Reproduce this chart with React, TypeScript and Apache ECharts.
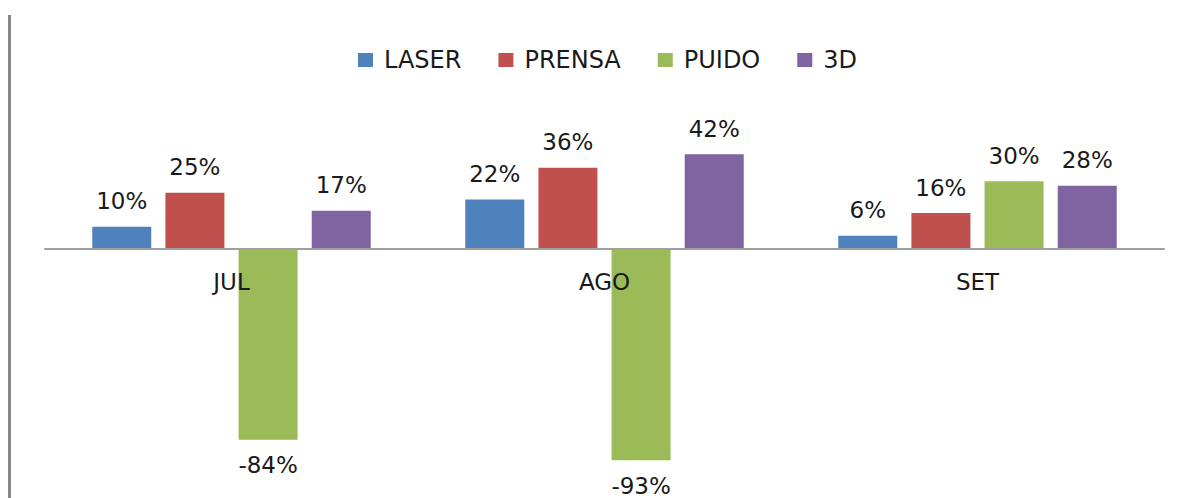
import React, { useEffect, useRef } from "react";
import * as echarts from "echarts";

const categories = ["JUL", "AGO", "SET"];
const seriesNames = ["LASER", "PRENSA", "PUIDO", "3D"];
const laser = [10, 22, 6];
const prensa = [25, 36, 16];
const puido = [-84, -93, 30];
const d3 = [17, 42, 28];
const colors = ["#4F81BD", "#C0504D", "#9BBB59", "#8064A2"];

const FONT = "DejaVu Sans";

export default function App() {
  const ref = useRef<HTMLDivElement>(null);
  useEffect(() => {
    if (!ref.current) return;
    const chart = echarts.init(ref.current, undefined, { renderer: "svg" });
    const all = [laser, prensa, puido, d3];
    chart.setOption({
      animation: false,
      backgroundColor: "#ffffff",
      legend: {
        data: seriesNames,
        left: 358,
        top: 48,
        padding: 0,
        icon: "rect",
        itemWidth: 15,
        itemHeight: 14,
        itemGap: 37,
        textStyle: {
          fontFamily: FONT,
          fontSize: 24,
          lineHeight: 24,
          color: "#1a1a1a",
          padding: [0, 0, 0, 6],
        },
      },
      grid: {
        left: 45,
        right: 28,
        top: 136,
        bottom: 22,
        outerBoundsMode: "none",
        containLabel: false,
      },
      xAxis: {
        type: "category",
        data: categories,
        position: "bottom",
        offset: -227,
        z: 5,
        axisTick: { show: false },
        axisLine: { onZero: false, lineStyle: { color: "#a0a0a0", width: 2 } },
        axisLabel: {
          margin: 21,
          fontFamily: FONT,
          fontSize: 23,
          color: "#1a1a1a",
        },
      },
      yAxis: {
        type: "value",
        min: -100,
        max: 50,
        show: false,
        splitLine: { show: false },
      },
      graphic: [
        {
          type: "line",
          shape: { x1: 9.5, y1: 15, x2: 9.5, y2: 498 },
          style: { stroke: "#888888", lineWidth: 3 },
        },
      ],
      series: all.map((vals, i) => ({
        name: seriesNames[i],
        type: "bar",
        barWidth: 59,
        barGap: "24%",
        z: 2,
        itemStyle: { color: colors[i] },
        label: {
          show: true,
          position: "top",
          distance: 14,
          formatter: "{c}%",
          fontFamily: FONT,
          fontSize: 23,
          color: "#1a1a1a",
        },
        data: vals.map((v) =>
          v < 0
            ? { value: v, label: { position: "bottom", distance: 14 } }
            : v
        ),
      })),
    });
    return () => chart.dispose();
  }, []);
  return (
    <div
      ref={ref}
      style={{ position: "fixed", left: 0, top: 0, width: 1192, height: 498 }}
    />
  );
}
